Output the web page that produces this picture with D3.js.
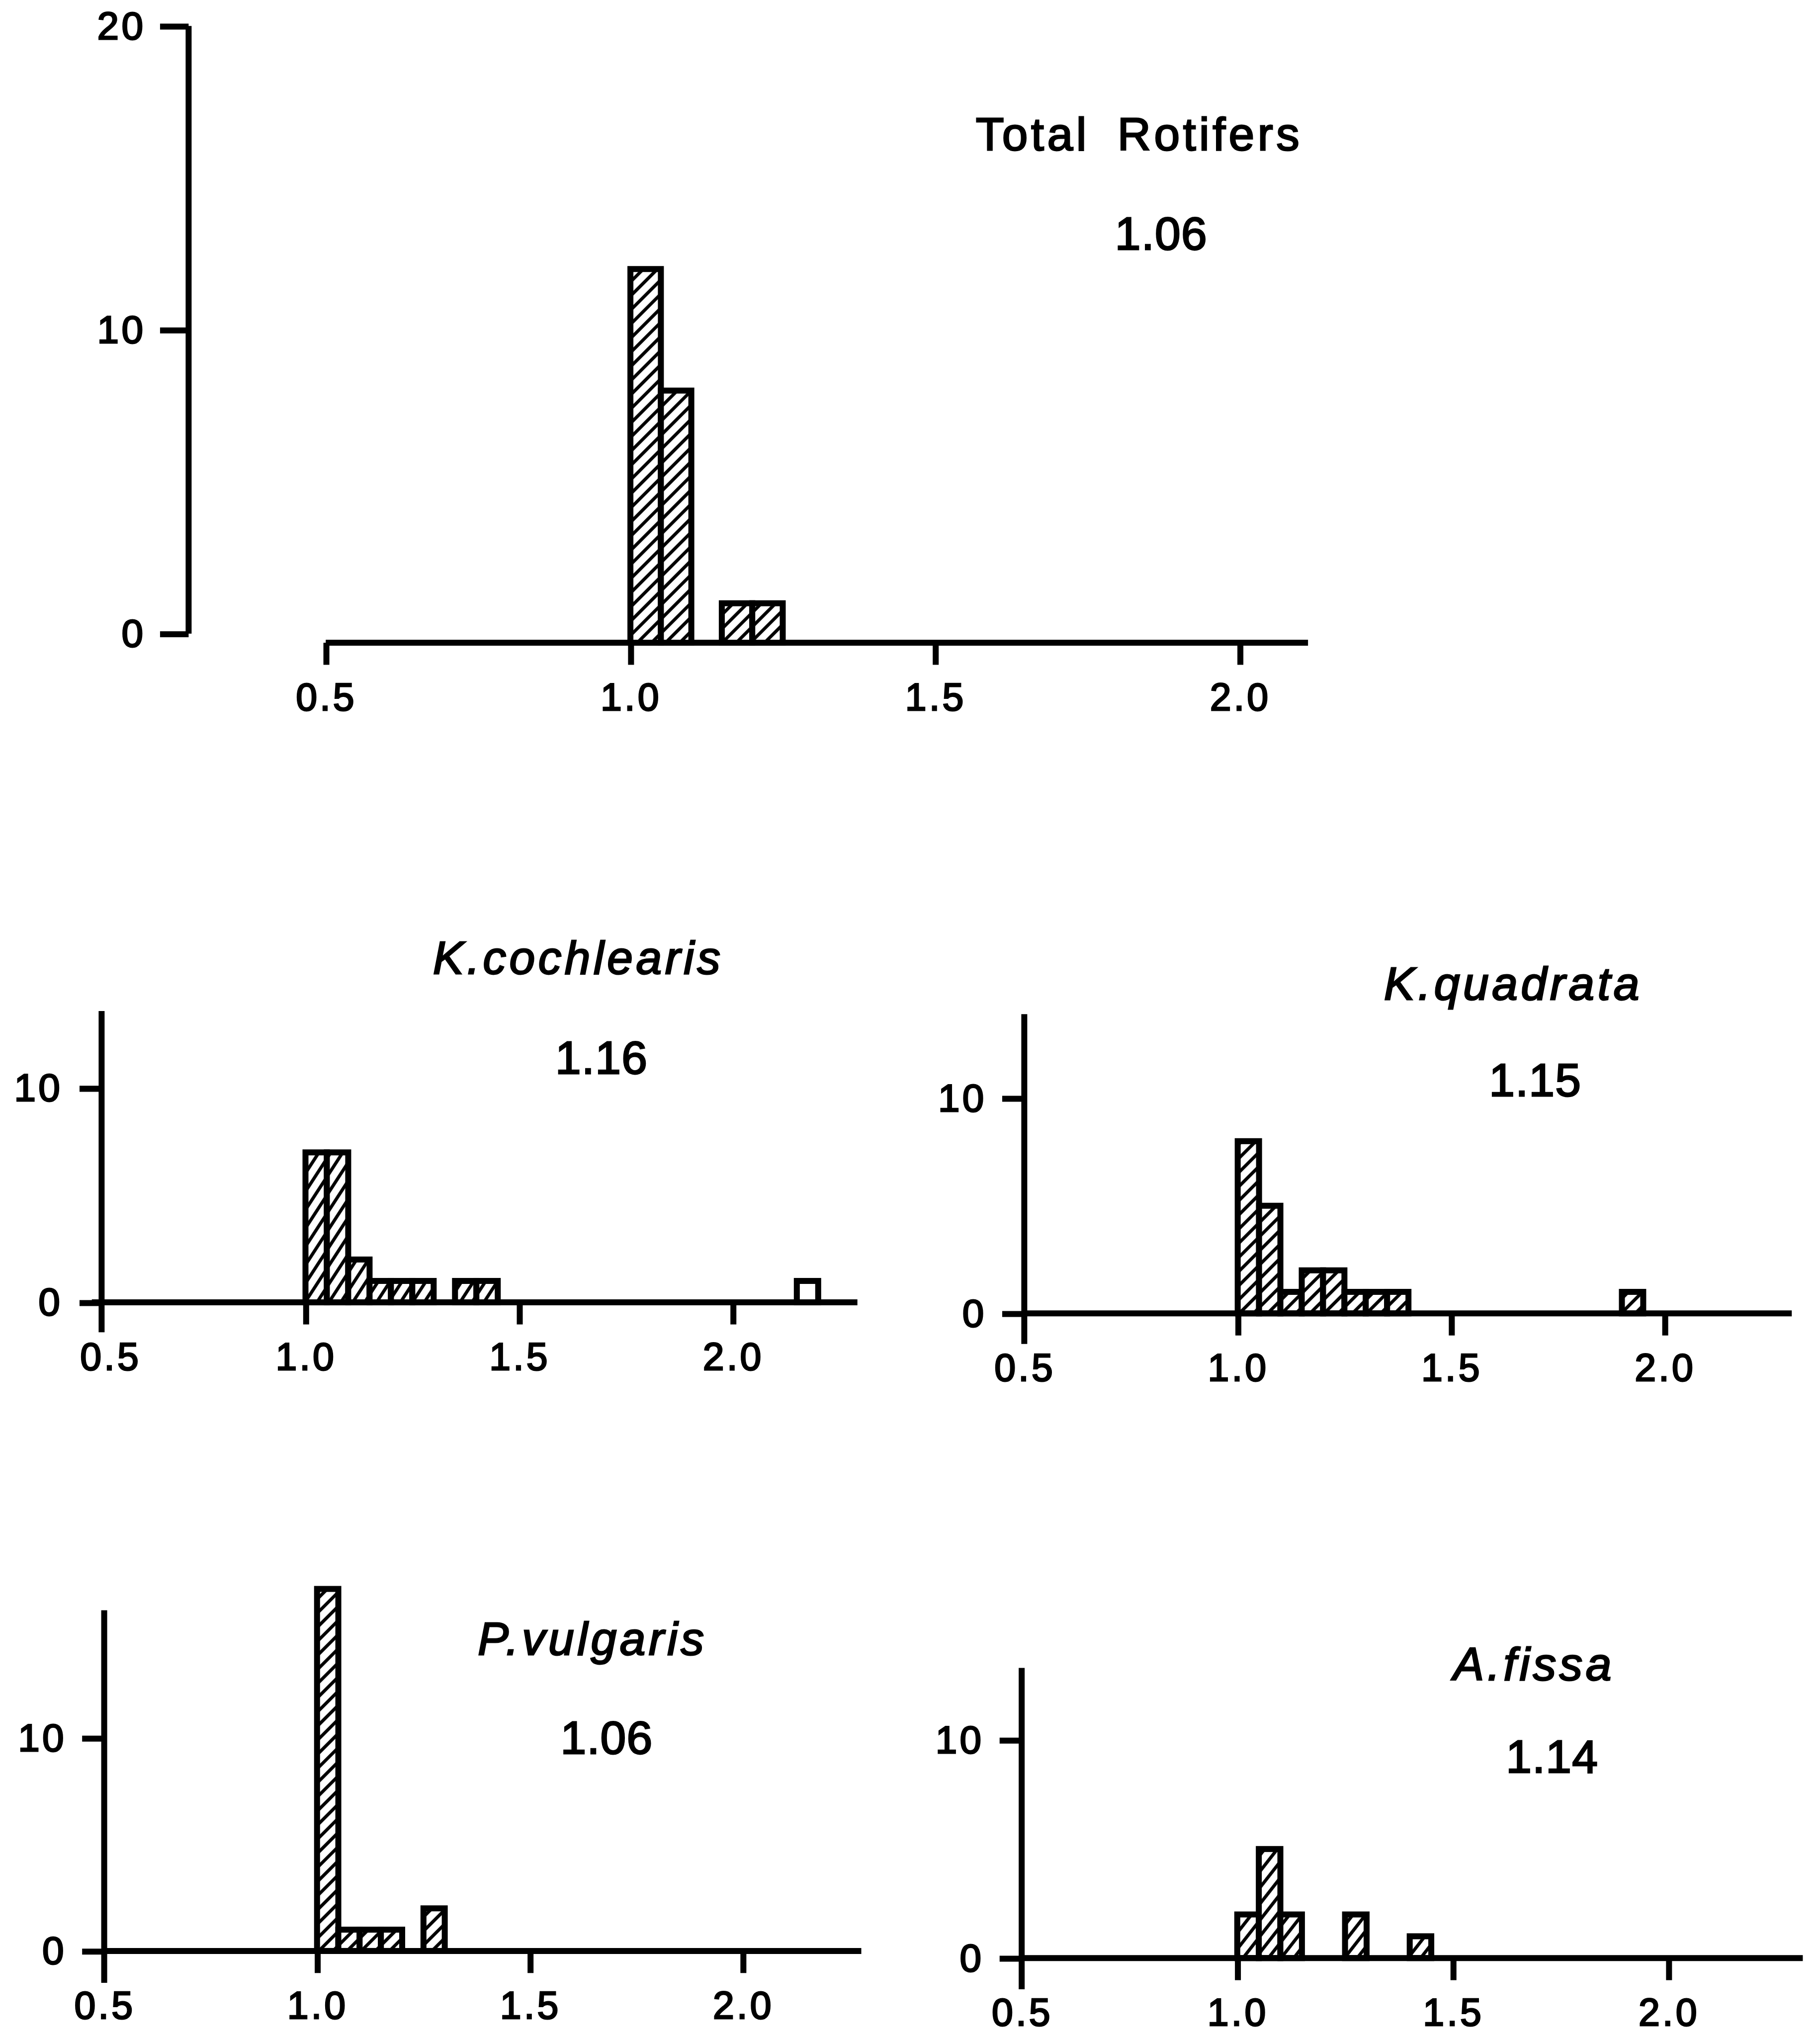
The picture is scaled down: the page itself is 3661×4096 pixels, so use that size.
<!DOCTYPE html>
<html>
<head>
<meta charset="utf-8">
<script src="https://d3js.org/d3.v7.min.js"></script>
<style>
  html, body { margin: 0; padding: 0; background: #fff; }
  svg { display: block; }

  .axis line, .axisline {
    stroke: #000;
    stroke-width: 4.6px;
    fill: none;
  }
  .axis text {
    font-family: "Liberation Sans", Arial, sans-serif;
    font-size: 29.5px;
    fill: #000;
    stroke: #000;
    stroke-width: 1.1px;
    letter-spacing: 2px;
  }
  .bar {
    stroke: #000;
    stroke-width: 4.6px;
  }
  .title, .mean {
    font-family: "Liberation Sans", Arial, sans-serif;
    font-size: 35.6px;
    fill: #000;
    stroke: #000;
    stroke-width: 1.1px;
    text-anchor: middle;
  }
  .title { letter-spacing: 2.5px; }
  .title.species { font-style: italic; }
  .title.total { word-spacing: 9px; }
  .mean { letter-spacing: 0.5px; }
</style>
</head>
<body>
<svg width="3661" height="4096" viewBox="0 0 1401 1568"></svg>

<script>

    // ---- data ----
    const xTicks = [0.5, 1.0, 1.5, 2.0];
    const binWidth = 0.05;

    const totalBins   = [1.00, 1.05, 1.15, 1.20];
    const totalCounts = [12, 8, 1, 1];

    const cochBins   = [1.00, 1.05, 1.10, 1.15, 1.20, 1.25, 1.35, 1.40, 2.15];
    const cochCounts = [7, 7, 2, 1, 1, 1, 1, 1, 1];
    const cochOpen   = [2.15];   // drawn without hatching

    const quadBins   = [1.00, 1.05, 1.10, 1.15, 1.20, 1.25, 1.30, 1.35, 1.90];
    const quadCounts = [8, 5, 1, 2, 2, 1, 1, 1, 1];

    const vulgBins   = [1.00, 1.05, 1.10, 1.15, 1.25];
    const vulgCounts = [17, 1, 1, 1, 2];

    const fissaBins   = [1.00, 1.05, 1.10, 1.25, 1.40];
    const fissaCounts = [2, 5, 2, 2, 1];

    const titles = ['Total Rotifers', 'K.cochlearis', 'K.quadrata', 'P.vulgaris', 'A.fissa'];
    const means  = ['1.06', '1.16', '1.15', '1.06', '1.14'];

    const bigYTicks   = [0, 10, 20];
    const smallYTicks = [0, 10];

    // ---- layout (viewBox units) ----
    let panels = [
        { bins: totalBins, counts: totalCounts, open: [], yTicks: bigYTicks,
          x05: 250.6, xUnit: 469.2, xEnd: 1007, yAxisX: 145, y0: 488, yUnit: 23.4, yTop: 20,
          base: 495, yTickLen: 22, yPad: 11, yLineEnd: 488, hatch: 45, joined: false,
          titleX: 877, titleY: 115.8, meanX: 894, meanY: 192.3 },
        { bins: cochBins, counts: cochCounts, open: cochOpen, yTicks: smallYTicks,
          x05: 70.5, xUnit: 329, xEnd: 660, yAxisX: 78, tick05: 85, y0: 1003, yUnit: 16.5, yTop: 13.6,
          base: 1003, yTickLen: 17, yPad: 13, yLineEnd: 1026, hatch: 57, joined: true,
          titleX: 445, titleY: 750, meanX: 463, meanY: 827 },
        { bins: quadBins, counts: quadCounts, open: [], yTicks: smallYTicks,
          x05: 788.5, xUnit: 328.7, xEnd: 1379.5, yAxisX: 788.5, y0: 1011.5, yUnit: 16.58, yTop: 13.9,
          base: 1011.5, yTickLen: 17, yPad: 12, yLineEnd: 1035, hatch: 45, joined: true,
          titleX: 1165, titleY: 770, meanX: 1182, meanY: 844 },
        { bins: vulgBins, counts: vulgCounts, open: [], yTicks: smallYTicks,
          x05: 80, xUnit: 327.8, xEnd: 663, yAxisX: 80, y0: 1502.5, yUnit: 16.4, yTop: 16,
          base: 1502.5, yTickLen: 17, yPad: 12, yLineEnd: 1527, hatch: 45, joined: true,
          titleX: 456, titleY: 1274.3, meanX: 467, meanY: 1350.6 },
        { bins: fissaBins, counts: fissaCounts, open: [], yTicks: smallYTicks,
          x05: 786.5, xUnit: 332, xEnd: 1388, yAxisX: 786.5, y0: 1508, yUnit: 16.8, yTop: 13.3,
          base: 1508, yTickLen: 17, yPad: 12, yLineEnd: 1532, hatch: 52, joined: true,
          titleX: 1181, titleY: 1294, meanX: 1195, meanY: 1365.3 }
    ];

    let hatchGap = 7.7,
        hatchWidth = 2.5;

    let svg = d3.select('svg'),
        defs = svg.append('defs');

    panels.forEach(function(p, i) {

        let x = d3.scaleLinear()
            .domain([0.5, 2.0])
            .range([p.x05, p.x05 + 1.5 * p.xUnit]);

        let y = d3.scaleLinear()
            .domain([0, p.yTop])
            .range([p.y0, p.y0 - p.yTop * p.yUnit]);

        // diagonal hatch, angle differs from panel to panel
        let hid = 'hatch' + i;
        let pat = defs.append('pattern')
            .attr('id', hid)
            .attr('patternUnits', 'userSpaceOnUse')
            .attr('width', hatchGap)
            .attr('height', hatchGap)
            .attr('patternTransform', 'rotate(' + (90 - p.hatch) + ')');
        pat.append('rect')
            .attr('width', hatchGap)
            .attr('height', hatchGap)
            .attr('fill', '#fff');
        pat.append('line')
            .attr('x1', hatchGap / 2).attr('x2', hatchGap / 2)
            .attr('y1', -1).attr('y2', hatchGap + 1)
            .attr('stroke', '#000')
            .attr('stroke-width', hatchWidth);

        let g = svg.append('g').attr('class', 'panel');

        let barData = p.bins.map((b, j) => ({ b: b, n: p.counts[j] }));

        g.selectAll('.bar')
            .data(barData)
            .enter()
            .append('rect')
            .attr('class', 'bar')
            .attr('x', d => x(d.b))
            .attr('width', d => x(d.b + binWidth) - x(d.b))
            .attr('y', d => y(d.n))
            .attr('height', d => p.base - y(d.n))
            .attr('fill', d => p.open.includes(d.b) ? '#fff' : 'url(#' + hid + ')');

        // x axis
        let xAxis = g.append('g')
            .attr('class', 'axis')
            .attr('transform', 'translate(0,' + p.base + ')')
            .call(d3.axisBottom(x)
                .tickValues(xTicks)
                .tickFormat(d3.format('.1f'))
                .tickSize(17)
                .tickSizeOuter(0)
                .tickPadding(14));
        xAxis.select('.domain').remove();
        xAxis.attr('font-size', null).attr('font-family', null);

        // in the lower panels the y axis itself runs down as the 0.5 tick
        if (p.joined) {
            let t05 = xAxis.selectAll('.tick').filter(d => d === 0.5);
            t05.select('line').remove();
            if (p.tick05 !== undefined) {
                t05.attr('transform', 'translate(' + p.tick05 + ',0)');
            }
        }

        g.append('line')
            .attr('class', 'axisline')
            .attr('x1', p.joined ? Math.min(x(0.5), p.yAxisX) : x(0.5))
            .attr('x2', p.xEnd)
            .attr('y1', p.base)
            .attr('y2', p.base);

        // y axis
        let yAxis = g.append('g')
            .attr('class', 'axis')
            .attr('transform', 'translate(' + p.yAxisX + ',0)')
            .call(d3.axisLeft(y)
                .tickValues(p.yTicks)
                .tickFormat(d3.format('d'))
                .tickSize(p.yTickLen)
                .tickSizeOuter(0)
                .tickPadding(p.yPad));
        yAxis.select('.domain').remove();
        yAxis.attr('font-size', null).attr('font-family', null);
        yAxis.selectAll('text').style('font-size', '30px');

        g.append('line')
            .attr('class', 'axisline')
            .attr('x1', p.yAxisX)
            .attr('x2', p.yAxisX)
            .attr('y1', y(p.yTop))
            .attr('y2', p.yLineEnd);

        // title and mean value
        g.append('text')
            .attr('class', i === 0 ? 'title total' : 'title species')
            .attr('x', p.titleX)
            .attr('y', p.titleY)
            .text(titles[i]);

        g.append('text')
            .attr('class', 'mean')
            .attr('x', p.meanX)
            .attr('y', p.meanY)
            .text(means[i]);
    });

</script>
</body>
</html>
